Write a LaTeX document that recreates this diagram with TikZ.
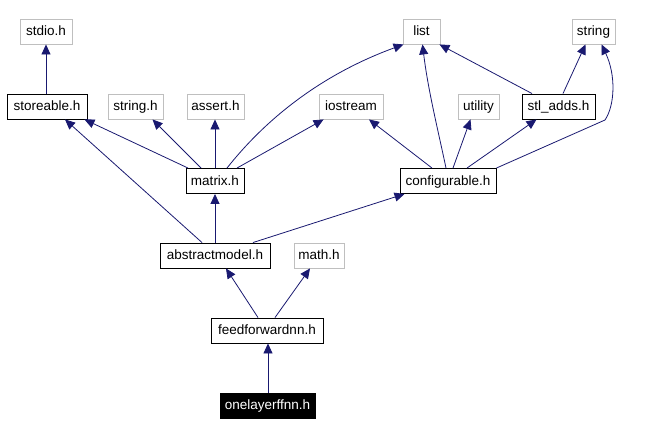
\documentclass[tikz,border=0pt]{standalone}
\usepackage{fontspec}
\setmainfont{Liberation Sans}
\usetikzlibrary{arrows.meta}
\definecolor{edgec}{HTML}{191970}
\definecolor{grayb}{HTML}{BFBFBF}
\tikzset{
  box/.style={draw=black, line width=0.9pt, minimum height=25pt, inner sep=0pt, text height=11pt, text depth=2pt, font=\fontsize{13.5pt}{15pt}\selectfont, text=black, fill=white},
  ext/.style={box, draw=grayb},
  cur/.style={box, fill=black, text=white},
  dep/.style={draw=edgec, line width=0.8pt, -{Triangle[length=10pt,width=9pt]}, edgec},
}
\begin{document}
\begin{tikzpicture}[x=1pt,y=-1pt]
\useasboundingbox (0,0) rectangle (651,435);
\node[ext, minimum width=52pt] (stdio) at (46,31.5) {stdio.h};
\node[ext, minimum width=37pt] (list) at (421.5,31.5) {list};
\node[ext, minimum width=43pt] (string) at (593.5,31.5) {string};
\node[box, minimum width=80pt] (storeable) at (47,106.5) {storeable.h};
\node[ext, minimum width=55pt] (stringh) at (135.5,106.5) {string.h};
\node[ext, minimum width=57pt] (assert) at (215.5,106.5) {assert.h};
\node[ext, minimum width=64pt] (iostream) at (351,106.5) {iostream};
\node[ext, minimum width=41pt] (utility) at (478.5,106.5) {utility};
\node[box, minimum width=73pt] (stladds) at (558.5,106.5) {stl\_adds.h};
\node[box, minimum width=58pt] (matrix) at (215,181) {matrix.h};
\node[box, minimum width=96pt] (config) at (448,181) {configurable.h};
\node[box, minimum width=110pt] (abstract) at (215,255.5) {abstractmodel.h};
\node[ext, minimum width=50pt] (math) at (319,255.5) {math.h};
\node[box, minimum width=112pt] (ffnn) at (267,330.5) {feedforwardnn.h};
\node[cur, minimum width=95pt] (one) at (267.5,405.5) {onelayerffnn.h};

\draw[dep] ([xshift=-1]storeable.north) -- ([xshift=0]stdio.south);
\draw[dep] ([xshift=-27]matrix.north) -- ([xshift=-3]storeable.south east);
\draw[dep] ([xshift=-14]matrix.north) -- ([xshift=17]stringh.south);
\draw[dep] (matrix.north) -- ([xshift=-0.5]assert.south);
\draw[dep] ([xshift=22]matrix.north) -- ([xshift=5]iostream.south west);
\draw[dep] ([xshift=12]matrix.north) .. controls (265,120) and (320,75) .. ([xshift=1]list.south west);
\draw[dep] ([xshift=-13]abstract.north) -- ([xshift=18]storeable.south);
\draw[dep] (abstract.north) -- (matrix.south);
\draw[dep] ([xshift=38]abstract.north) -- ([xshift=5]config.south west);
\draw[dep] ([xshift=-16]config.north) -- ([xshift=18]iostream.south);
\draw[dep] ([xshift=-2]config.north) .. controls (438,130) and (428,90) .. ([xshift=1]list.south);
\draw[dep] ([xshift=5]config.north) -- ([xshift=-8]utility.south);
\draw[dep] ([xshift=19]config.north) -- ([xshift=-22]stladds.south);
\draw[dep] (config.north east) -- (605,120) .. controls (615,105) and (616,75) .. ([xshift=8]string.south);
\draw[dep] ([xshift=-26.5]stladds.north) -- ([xshift=-1]list.south east);
\draw[dep] ([xshift=4.5]stladds.north) -- ([xshift=-8]string.south);
\draw[dep] ([xshift=-9]ffnn.north) -- ([xshift=11]abstract.south);
\draw[dep] ([xshift=8]ffnn.north) -- ([xshift=-9]math.south);
\draw[dep] ([xshift=0.5]one.north) -- ([xshift=1]ffnn.south);
\end{tikzpicture}
\end{document}
